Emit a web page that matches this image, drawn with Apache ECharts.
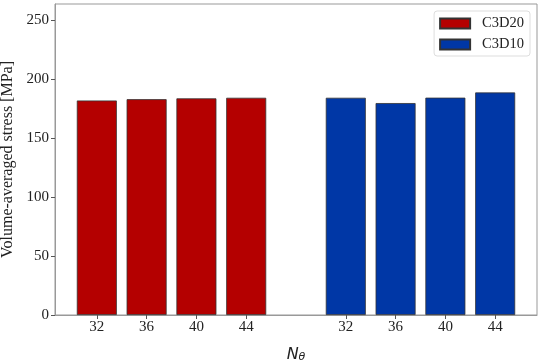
<!DOCTYPE html>
<html><head><meta charset="utf-8">
<script src="https://cdn.jsdelivr.net/npm/echarts@6/dist/echarts.min.js"></script>
<style>html,body{margin:0;padding:0;background:#fff}#c{width:539px;height:362px}</style>
</head><body><div id="c"></div>
<script>
const categories = ['32', '36', '40', '44'];
const c3d20 = [182.1, 183.2, 183.9, 184.4];
const c3d10 = [184.4, 179.9, 184.5, 188.9];
const yTicks = [0, 50, 100, 150, 200, 250];

// positions on the numeric x-axis: group 1 at 0..3, group 2 at 5..8
const pos20 = categories.map((_, i) => i);
const pos10 = categories.map((_, i) => i + 5);
const labelMap = {};
pos20.forEach((p, i) => labelMap[p] = categories[i]);
pos10.forEach((p, i) => labelMap[p] = categories[i]);

const serif = 'Liberation Serif';
const chart = echarts.init(document.getElementById('c'), null, {renderer: 'canvas'});
chart.setOption({
  animation: false,
  backgroundColor: '#fff',
  grid: {left: 55, right: 2, top: 4, bottom: 47, show: true, borderColor: '#999', borderWidth: 1,
         containLabel: false, outerBoundsMode: 'none'},
  legend: {
    right: 9, top: 11, orient: 'vertical', itemWidth: 30, itemHeight: 10, itemGap: 6,
    padding: [5, 6, 4, 5], borderColor: '#ddd', borderWidth: 1, borderRadius: 3,
    textStyle: {fontFamily: serif, fontSize: 14.5, color: '#222', padding: [0, 0, 0, 7]},
    icon: 'rect'
  },
  xAxis: {
    type: 'value', min: -0.84, max: 8.84,
    splitLine: {show: false},
    axisLine: {show: true, onZero: false, lineStyle: {color: '#999'}},
    axisTick: {show: true, customValues: pos20.concat(pos10), length: 4, lineStyle: {color: '#555'}},
    axisLabel: {customValues: pos20.concat(pos10), formatter: v => labelMap[v] || '',
      fontFamily: serif, fontSize: 15, color: '#222', margin: 5},
    name: '{n|N}{s|θ}', nameLocation: 'middle', nameGap: 31,
    nameTextStyle: {rich: {
      n: {fontFamily: 'DejaVu Sans', fontStyle: 'italic', fontSize: 16, color: '#222'},
      s: {fontFamily: 'DejaVu Sans', fontStyle: 'italic', fontSize: 11, color: '#222', verticalAlign: 'bottom', padding: [6, 0, 0, 0]}
    }}
  },
  yAxis: {
    type: 'value', min: 0, max: 264, interval: 50,
    splitLine: {show: false},
    axisLine: {show: true, onZero: false, lineStyle: {color: '#999'}},
    axisTick: {show: true, length: 4, lineStyle: {color: '#555'}},
    axisLabel: {showMaxLabel: false, formatter: v => yTicks.indexOf(v) >= 0 ? String(v) : '',
      fontFamily: serif, fontSize: 15, color: '#222', margin: 6},
    name: 'Volume-averaged stress [MPa]', nameLocation: 'middle', nameGap: 33,
    nameTextStyle: {fontFamily: serif, fontSize: 16, color: '#222'}
  },
  series: [
    {name: 'C3D20', type: 'bar', barWidth: 40, barGap: '-100%',
     data: pos20.map((p, i) => [p, c3d20[i]]),
     itemStyle: {color: '#b40000', borderColor: '#333', borderWidth: 0.8}},
    {name: 'C3D10', type: 'bar', barWidth: 40, barGap: '-100%',
     data: pos10.map((p, i) => [p, c3d10[i]]),
     itemStyle: {color: '#0037a6', borderColor: '#333', borderWidth: 0.8}}
  ]
});
</script></body></html>
